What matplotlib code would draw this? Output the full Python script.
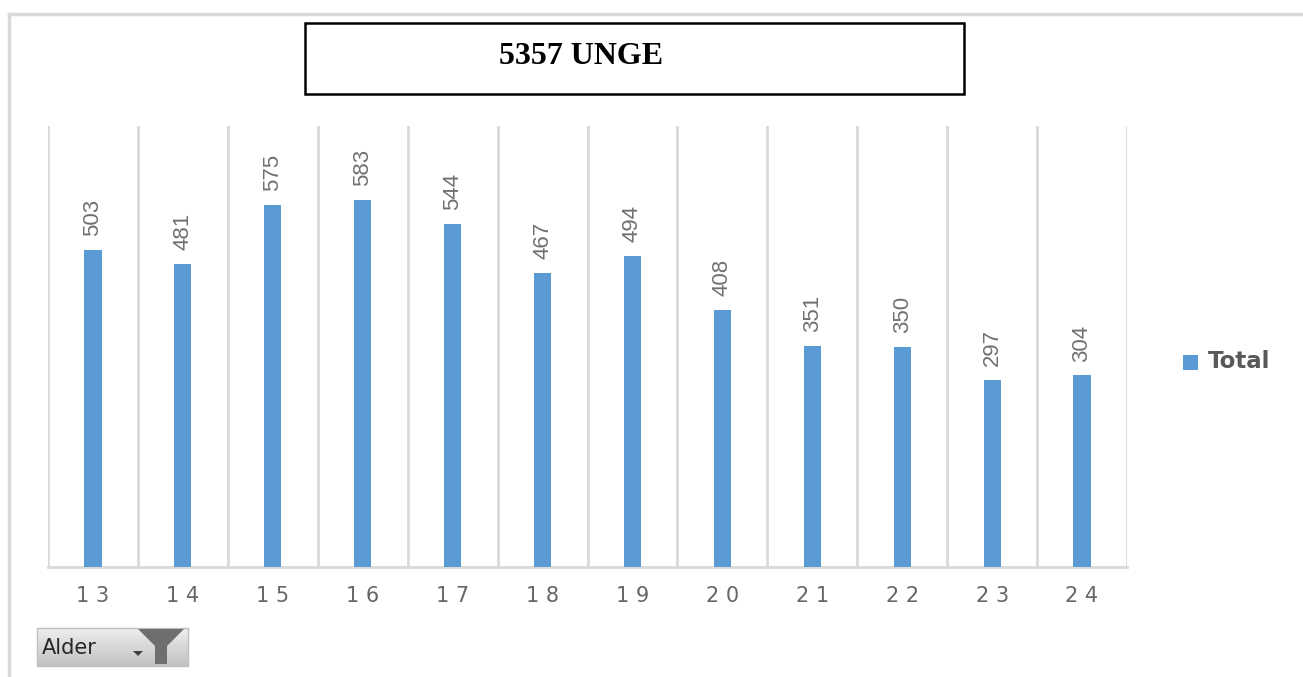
import matplotlib
matplotlib.use("Agg")
import matplotlib.pyplot as plt
from matplotlib.patches import Rectangle, Polygon
import numpy as np

categories = ["13", "14", "15", "16", "17", "18", "19", "20", "21", "22", "23", "24"]
values = [503, 481, 575, 583, 544, 467, 494, 408, 351, 350, 297, 304]
title = "5357 UNGE"
series_name = "Total"
filter_label = "Alder"

W, H = 1303, 677
fig = plt.figure(figsize=(W / 100, H / 100), dpi=100)
fig.patch.set_facecolor("white")

def fx(x):
    return x / W

def fy(y):
    return 1 - y / H

# outer frame
fig.add_artist(plt.Line2D([fx(9), fx(9)], [fy(14), fy(677)], color="#d9d9d9", lw=2.5))
fig.add_artist(plt.Line2D([fx(9), fx(1303)], [fy(14), fy(14)], color="#d9d9d9", lw=2.5))

ax = fig.add_axes([fx(48), fy(567), fx(1127) - fx(48), fy(126) - fy(567)])
x = np.arange(len(categories))
bar_color = "#5B9BD5"
ax.bar(x, values, width=0.19, color=bar_color, zorder=3)
ax.set_xlim(-0.5, len(categories) - 0.5)
ax.set_ylim(0, 700)
for b in np.arange(-0.5, len(categories), 1.0):
    ax.axvline(b, color="#d9d9d9", lw=2, zorder=1)
for s in ["top", "right", "left"]:
    ax.spines[s].set_visible(False)
ax.spines["bottom"].set_color("#d9d9d9")
ax.spines["bottom"].set_linewidth(2)
ax.set_yticks([])
ax.set_xticks(x)
ax.set_xticklabels([" ".join(c) for c in categories], fontsize=15,
                   color="#666666", family="DejaVu Sans")
ax.tick_params(axis="x", length=0, pad=14)

for xi, v in zip(x, values):
    ax.annotate(str(v), (xi, v), xytext=(0, 10), textcoords="offset points",
                rotation=90, ha="center", va="bottom", fontsize=16,
                color="#707070", family="Liberation Sans")

# title box
fig.add_artist(Rectangle((fx(305), fy(94)), fx(964) - fx(305), fy(23) - fy(94),
                         fill=False, edgecolor="black", lw=1.8))
fig.text(fx(581), fy(56), title, ha="center", va="center", fontsize=23,
         fontweight="bold", family="Liberation Serif", color="black")

# legend
fig.add_artist(Rectangle((fx(1183), fy(370)), fx(15), fy(355) - fy(370),
                         facecolor=bar_color, edgecolor="none"))
fig.text(fx(1208), fy(362), series_name, ha="left", va="center", fontsize=16.5,
         fontweight="bold", color="#595959", family="DejaVu Sans")

# filter button
n = 20
for i in range(n):
    y0 = 628 + i * (38 / n)
    c = 0.93 - 0.18 * i / n
    fig.add_artist(Rectangle((fx(37), fy(y0 + 38 / n)), fx(151), fy(y0) - fy(y0 + 38 / n),
                             facecolor=(c, c, c), edgecolor="none"))
fig.add_artist(Rectangle((fx(37), fy(666)), fx(151), fy(628) - fy(666),
                         fill=False, edgecolor="#bfbfbf", lw=1))
fig.text(fx(42), fy(648), filter_label, ha="left", va="center", fontsize=15,
         color="#262626", family="DejaVu Sans")
fig.add_artist(Polygon([(fx(133), fy(651)), (fx(143), fy(651)), (fx(138), fy(656))],
                       closed=True, facecolor="#404040", edgecolor="none"))
fig.add_artist(Polygon([(fx(138), fy(629)), (fx(184), fy(629)), (fx(167), fy(646)),
                        (fx(167), fy(664)), (fx(155), fy(664)), (fx(155), fy(646))],
                       closed=True, facecolor="#6e6e6e", edgecolor="none"))

fig.savefig("out.png", dpi=100)
